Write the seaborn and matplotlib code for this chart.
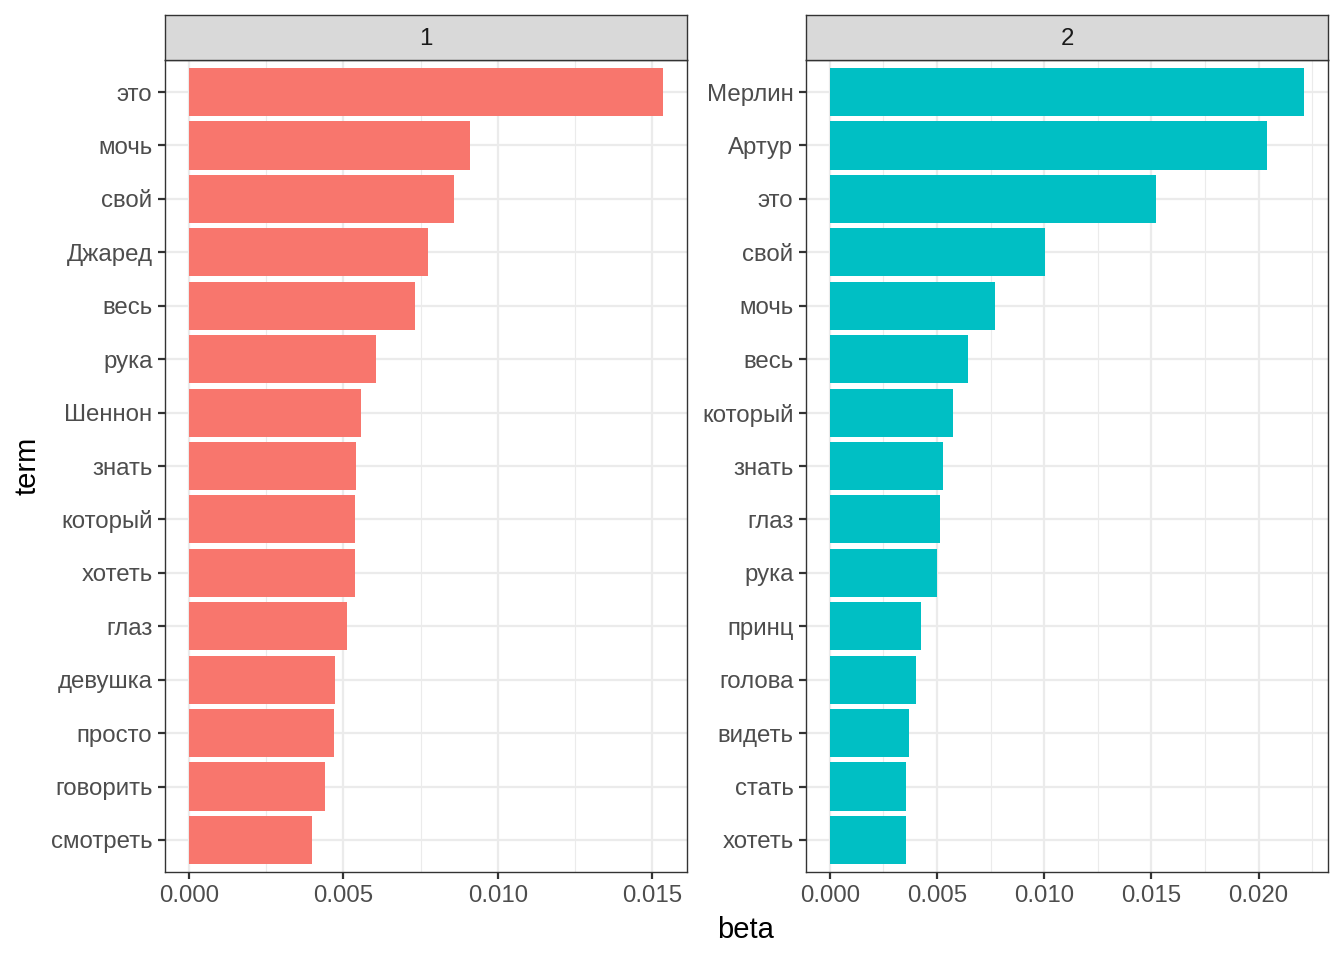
import pandas as pd
import seaborn as sns
from matplotlib import pyplot as plt
from matplotlib.ticker import MultipleLocator

terms_1 = ["это", "мочь", "свой", "Джаред", "весь", "рука", "Шеннон", "знать",
           "который", "хотеть", "глаз", "девушка", "просто", "говорить", "смотреть"]
beta_1 = [0.01535, 0.00910, 0.00858, 0.00774, 0.00732, 0.00606, 0.00558, 0.00542,
          0.00539, 0.00538, 0.00513, 0.00474, 0.00471, 0.00442, 0.00400]

terms_2 = ["Мерлин", "Артур", "это", "свой", "мочь", "весь", "который", "знать",
           "глаз", "рука", "принц", "голова", "видеть", "стать", "хотеть"]
beta_2 = [0.02213, 0.02037, 0.01522, 0.01002, 0.00770, 0.00645, 0.00575, 0.00529,
          0.00515, 0.00501, 0.00427, 0.00404, 0.00371, 0.00358, 0.00357]

topics = ["1", "2"]
colors = ["#F8766D", "#00BFC4"]

plt.rcParams["font.family"] = ["Liberation Sans", "DejaVu Sans"]

W, H = 1344, 960
fig = plt.figure(figsize=(W / 100, H / 100), dpi=100)

panels = [(165, terms_1, beta_1), (806, terms_2, beta_2)]
for (left, terms, betas), topic, color in zip(panels, topics, colors):
    df = pd.DataFrame({"term": terms, "beta": betas})
    ax = fig.add_axes([left / W, 1 - 872 / H, 522 / W, 812 / H])
    sns.barplot(data=df, x="beta", y="term", order=terms, color=color,
                saturation=1, width=0.9, orient="h", ax=ax, zorder=2)
    n = len(terms)
    ax.set_ylim(n - 1 + 0.6, -0.6)
    bmax = max(betas)
    ax.set_xlim(-0.05 * bmax, 1.05 * bmax)
    ax.xaxis.set_major_locator(MultipleLocator(0.005))
    ax.xaxis.set_minor_locator(MultipleLocator(0.0025))
    ax.xaxis.set_major_formatter(plt.FormatStrFormatter("%.3f"))
    ax.grid(axis="x", which="major", color="#EBEBEB", lw=1.6, zorder=0)
    ax.grid(axis="x", which="minor", color="#EBEBEB", lw=0.8, zorder=0)
    ax.grid(axis="y", which="major", color="#EBEBEB", lw=1.6, zorder=0)
    ax.set_axisbelow(True)
    ax.set_xlabel("")
    ax.set_ylabel("")
    for s in ax.spines.values():
        s.set_color("#333333")
        s.set_linewidth(1.0)
    ax.tick_params(which="major", length=5, width=1.6, color="#333333",
                   labelsize=17.3, labelcolor="#4D4D4D", pad=4)
    ax.tick_params(which="minor", length=0)

    sax = fig.add_axes([left / W, 1 - 60 / H, 522 / W, 45 / H])
    sax.set_facecolor("#D9D9D9")
    sax.set_xticks([])
    sax.set_yticks([])
    for s in sax.spines.values():
        s.set_color("#333333")
        s.set_linewidth(1.0)
    sax.text(0.5, 0.47, topic, ha="center", va="center", fontsize=17.3,
             color="#1A1A1A", transform=sax.transAxes)

fig.text(28 / W, 1 - 466 / H, "term", rotation=90, ha="center", va="center",
         fontsize=21, color="black")
fig.text(746 / W, 1 - 930 / H, "beta", ha="center", va="center",
         fontsize=21, color="black")

fig.savefig("out.png", dpi=100)
